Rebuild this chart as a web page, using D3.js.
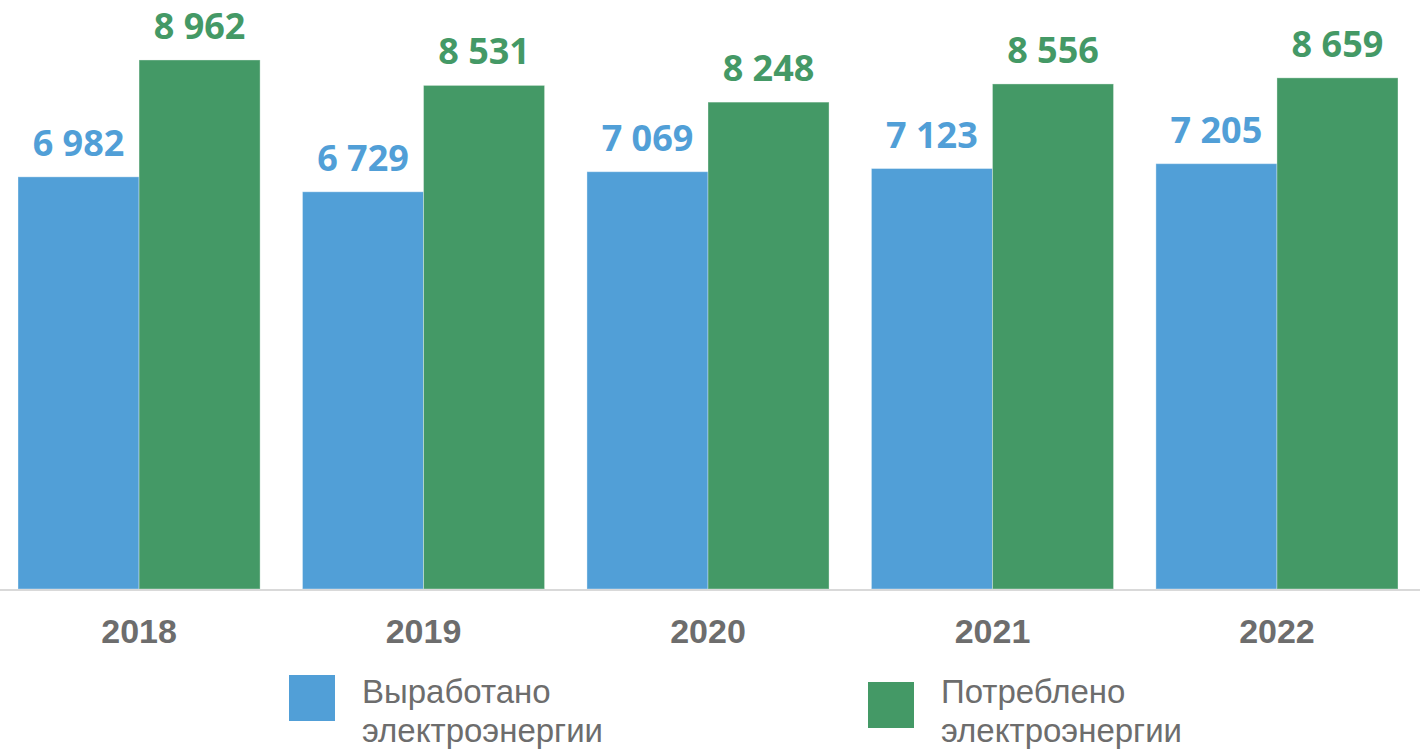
<!DOCTYPE html>
<html>
<head>
<meta charset="utf-8">
<script src="https://cdn.jsdelivr.net/npm/d3@7"></script>
<style>
  body { margin: 0; background: #fff; }
  .axis path, .axis line { display: none; }
</style>
</head>
<body>
<script>
const width = 1423,
    height = 754,
    baseline = 589;

const years = ['2018', '2019', '2020', '2021', '2022'];
const produced = [6982, 6729, 7069, 7123, 7205];
const consumed = [8962, 8531, 8248, 8556, 8659];
const seriesNames = ['Выработано электроэнергии', 'Потреблено электроэнергии'];
const colors = ['#519fd7', '#449966'];

const x = d3.scaleBand().domain(years).range([0, 1416])
    .paddingInner(0.149).paddingOuter(0.0633);
const xs = d3.scaleBand().domain([0, 1]).range([0, x.bandwidth()]);
const y = d3.scaleLinear().domain([0, 9000]).range([baseline, baseline - 9000 * 0.05903]);

const svg = d3.select('body').append('svg')
    .attr('width', width)
    .attr('height', height);

const groups = svg.selectAll('g.year')
    .data(years)
    .enter()
    .append('g')
    .attr('class', 'year')
    .attr('transform', d => 'translate(' + x(d) + ',0)');

const fmt = v => d3.format(',')(v).replace(',', ' ');

[produced, consumed].forEach((vals, s) => {
    groups.append('rect')
        .attr('x', xs(s))
        .attr('width', xs.bandwidth())
        .attr('y', (d, i) => y(vals[i]))
        .attr('height', (d, i) => baseline - y(vals[i]))
        .attr('fill', colors[s])
        .attr('stroke', 'rgba(255,255,255,0.35)')
        .attr('stroke-width', 1);

    groups.append('text')
        .attr('x', xs(s) + xs.bandwidth() / 2)
        .attr('y', (d, i) => y(vals[i]) - 21)
        .attr('text-anchor', 'middle')
        .attr('font-family', 'Open Sans, sans-serif')
        .attr('font-weight', 700)
        .attr('font-size', 36)
        .attr('fill', colors[s])
        .text((d, i) => fmt(vals[i]));
});

svg.append('line')
    .attr('x1', 0).attr('x2', 1420)
    .attr('y1', baseline + 1).attr('y2', baseline + 1)
    .attr('stroke', '#d9d9d9')
    .attr('stroke-width', 2);

const xAxis = d3.axisBottom(x).tickSize(0).tickPadding(0);
svg.append('g')
    .attr('class', 'axis')
    .attr('transform', 'translate(0,' + baseline + ')')
    .call(xAxis)
    .call(g => g.selectAll('text')
        .attr('dy', null)
        .attr('y', 54)
        .attr('font-family', 'Liberation Sans, Arial, sans-serif')
        .attr('font-weight', 700)
        .attr('font-size', 34)
        .attr('fill', '#6d6d6d'));

// legend: squares sit at slightly different heights, text lines share baselines
const legendPos = [{x: 289, y: 675}, {x: 868, y: 682}];
seriesNames.forEach((name, i) => {
    svg.append('rect')
        .attr('x', legendPos[i].x).attr('y', legendPos[i].y)
        .attr('width', 46).attr('height', 46)
        .attr('fill', colors[i]);
    const t = svg.append('text')
        .attr('font-family', 'Liberation Sans, Arial, sans-serif')
        .attr('font-size', 33)
        .attr('fill', '#6d6d6d');
    name.split(' ').forEach((w, j) => {
        t.append('tspan')
            .attr('x', legendPos[i].x + 73)
            .attr('y', 703 + j * 39)
            .text(w);
    });
});
</script>
</body>
</html>
